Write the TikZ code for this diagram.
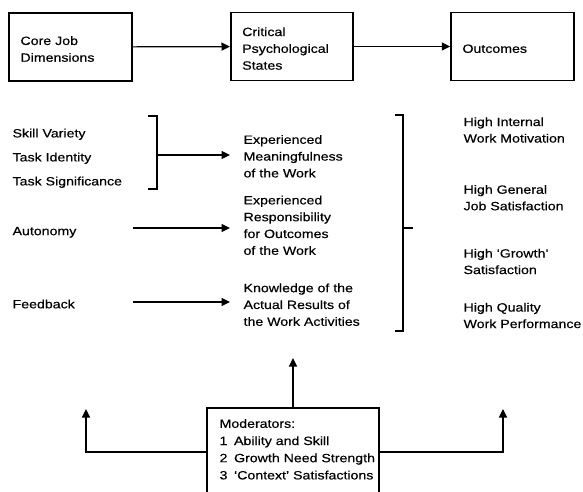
\documentclass[tikz,border=0pt]{standalone}
\usepackage{fontspec}
\setmainfont{Liberation Sans}[FakeStretch=1.18, FakeBold=0.4]
\usetikzlibrary{arrows.meta}
\begin{document}
\begin{tikzpicture}[x=1pt,y=-1pt,
  line width=1.2pt,
  arr/.style={-{Triangle[length=8.5pt,width=8pt]}},
  txt/.style={font=\fontsize{12}{16.8}\selectfont},
  lbl/.style={txt, align=left, inner sep=0pt, anchor=west},
  box/.style={draw, line width=1.5pt, txt, align=left,
    inner xsep=11.5pt, inner ysep=0pt, minimum height=68pt},
]
\clip (0,0) rectangle (583,492);

% top row: the three stages
\node[box, text width=100pt] (core) at (70.5,47)
  {\rule{0pt}{12.8pt}Core Job\\Dimensions};
\node[box, text width=99.3pt] (cps) at (291.9,46.5)
  {\rule{0pt}{12.8pt}Critical\\Psychological\\States};
\node[box, text width=100pt] (out) at (512.5,46.5)
  {\rule{0pt}{12.8pt}Outcomes};
\draw[arr] (core) -- (cps);
\draw[arr] (cps) -- (out);

% core job dimensions
\node[lbl] (sv) at (12,134.3) {Skill Variety};
\node[lbl] (ti) at (12,158.3) {Task Identity};
\node[lbl] (ts) at (12,182.3) {Task Significance};
\node[lbl] (au) at (12,232.3) {Autonomy};
\node[lbl] (fb) at (12,304) {Feedback};

% critical psychological states
\node[lbl] (mf) at (243,156.3) {Experienced\\Meaningfulness\\of the Work};
\node[lbl] (rs) at (243,225.3) {Experienced\\Responsibility\\for Outcomes\\of the Work};
\node[lbl] (kn) at (243,304.7) {Knowledge of the\\Actual Results of\\the Work Activities};

% outcomes
\node[lbl, font=\fontsize{12}{16.5}\selectfont] (o1) at (463,130) {High Internal\\Work Motivation};
\node[lbl, font=\fontsize{12}{16.5}\selectfont] (o2) at (463,197.7) {High General\\Job Satisfaction};
\node[lbl, font=\fontsize{12}{16.5}\selectfont] (o3) at (463,261.5) {High `Growth'\\Satisfaction};
\node[lbl, font=\fontsize{12}{16.5}\selectfont] (o4) at (463,315.5) {High Quality\\Work Performance};

% bracket grouping the first three dimensions
\coordinate (lbt) at (148,116);
\coordinate (lbb) at (148,189);
\coordinate (lbm) at (157,155);
\draw (lbt) -- ++(9,0) -- (lbb -| lbm) -- (lbb);
\draw[arr, shorten >=13pt] (lbm) -- (lbm -| mf.west);

% single dimensions
\coordinate (aut) at (133,228);
\coordinate (fbt) at (133,302);
\draw[arr, shorten >=13pt] (aut) -- (aut -| rs.west);
\draw[arr, shorten >=13pt] (fbt) -- (fbt -| kn.west);

% bracket grouping the three states
\coordinate (rbt) at (395,115);
\coordinate (rbb) at (395,331);
\coordinate (rbm) at (403,228);
\draw (rbt) -- ++(8,0) -- (rbb -| rbm) -- (rbb);
\draw (rbm) -- ++(10,0);

% moderators
\node[draw, line width=1.5pt, minimum width=172pt, minimum height=98pt,
  anchor=north, inner sep=0pt] (mod) at (293,407) {};
\node[lbl, anchor=north west, font=\fontsize{12}{17.2}\selectfont] (modtxt) at (219,418.5)
  {Moderators:\\
   \makebox[14.5pt][l]{1}Ability and Skill\\
   \makebox[14.5pt][l]{2}Growth Need Strength\\
   \makebox[14.5pt][l]{3}`Context' Satisfactions};
\coordinate (uptip) at (293,358);
\coordinate (ltip) at (86,409);
\coordinate (rtip) at (503,409);
\draw[arr] (mod.north) -- (uptip);
\draw[arr] ([yshift=-45pt]mod.north west) -| (ltip);
\draw[arr] ([yshift=-45pt]mod.north east) -| (rtip);
\end{tikzpicture}
\end{document}
